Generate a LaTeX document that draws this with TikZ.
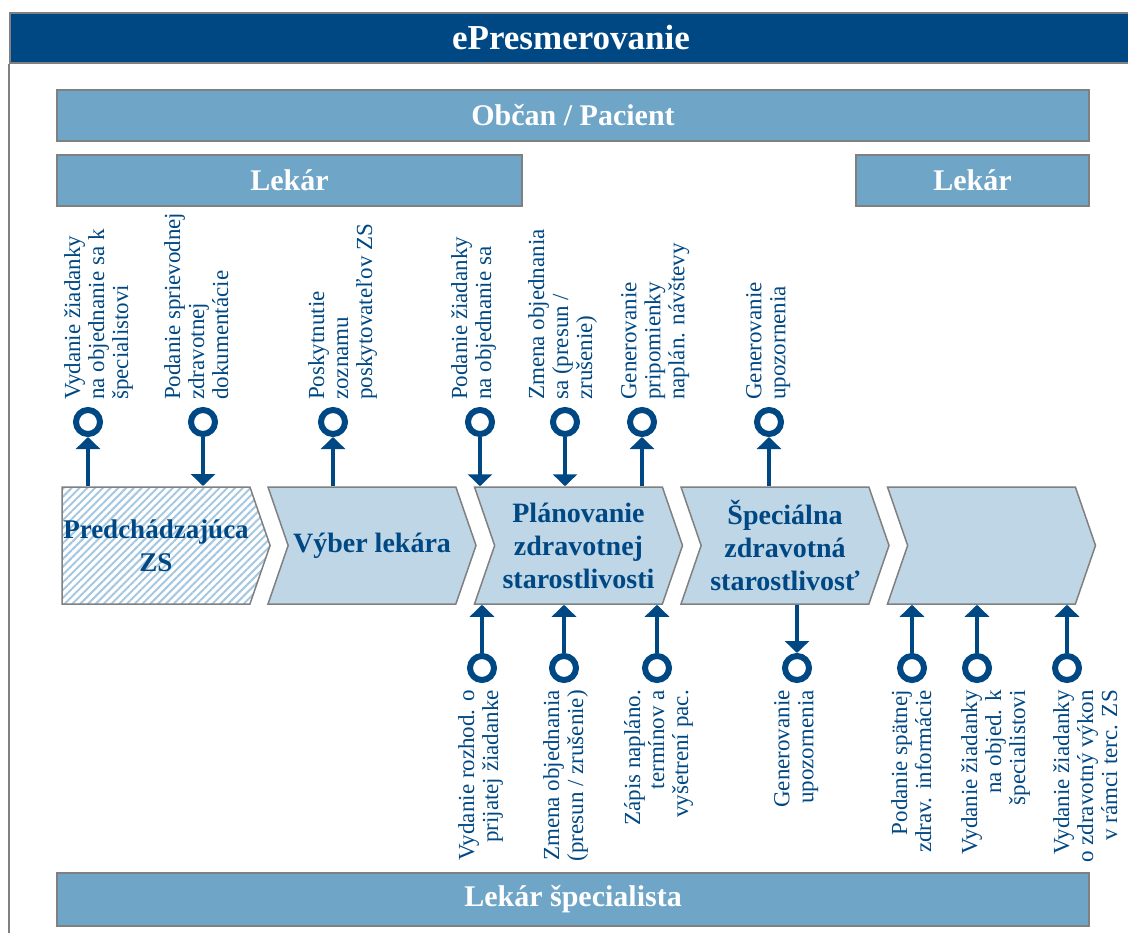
\documentclass[tikz,border=0pt]{standalone}
\usepackage{fontspec}
\setmainfont{Liberation Serif}
\usetikzlibrary{shapes.symbols, positioning, arrows.meta, patterns.meta}

\definecolor{darkblue}{RGB}{0,72,132}
\definecolor{barblue}{RGB}{111,165,199}
\definecolor{phaseblue}{RGB}{190,214,229}
\definecolor{hatchblue}{RGB}{165,200,224}
\definecolor{framegray}{RGB}{128,128,128}

\begin{document}
\begin{tikzpicture}[x=1pt,y=-1pt,node distance=206.5pt,
 bar/.style={rectangle,draw=framegray,line width=2pt,fill=barblue,text=white,
   font=\fontsize{30}{32}\selectfont\bfseries},
 phase/.style={signal,signal to=east,signal from=west,signal pointer angle=142,
   draw=framegray,line width=1.5pt,fill=phaseblue,minimum width=208pt,
   minimum height=117pt,inner sep=0pt,text=darkblue,align=center,
   font=\fontsize{28}{33}\selectfont\bfseries},
 pin/.style={circle,draw=darkblue,line width=6pt,minimum size=24pt,inner sep=0pt},
 flow/.style={draw=darkblue,line width=4pt,-{Triangle[width=24pt,length=12pt]}},
 uplbl/.style={rotate=90,anchor=north west,inner sep=0pt,text=darkblue,
   align=left,font=\fontsize{23}{24}\selectfont},
 lowlbl/.style={rotate=90,anchor=north east,inner sep=0pt,text=darkblue,
   align=right,font=\fontsize{23}{24}\selectfont}]
  \useasboundingbox (0,0) rectangle (1128,933);

  % frame and actors
  \node[bar,fill=darkblue,minimum width=1122pt,minimum height=50pt,
    font=\fontsize{35}{36}\selectfont\bfseries] (title) at (571,38) {ePresmerovanie};
  \draw[framegray,line width=2pt] (title.south west) -- ++(0,880);
  \node[bar,minimum width=1032pt,minimum height=51pt] (citizen) at (573,115.5) {Občan / Pacient};
  \node[bar,minimum width=465pt,minimum height=51pt] (gp) at (289.5,180.5) {Lekár};
  \node[bar,minimum width=233pt,minimum height=51pt] (gp2) at (972.5,180.5) {Lekár};
  \node[bar,minimum width=1032pt,minimum height=53pt] (spec) at (573,899.5) {Lekár špecialista};

  % process steps
  \node[phase,signal from=nowhere,fill=white,font=\fontsize{27}{33}\selectfont\bfseries,
    pattern={Lines[angle=45,distance=5.5pt,line width=2pt]},pattern color=hatchblue]
    (prev) at (156,545.5) {Predchádzajúca\\ZS};
  \node[phase] (choice) at (372,545.5) {Výber lekára};
  \node[phase] (plan) [right of=choice] {Plánovanie\\zdravotnej\\starostlivosti};
  \node[phase] (care) [right of=plan] {Špeciálna\\zdravotná\\starostlivosť};
  \node[phase] (next) [right of=care] {};

  % services above
  \foreach \n/\x in {1/88, 2/203, 3/333, 4/480, 5/565, 6/642, 7/769}
    \node[pin] (t\n) at (\x,422) {};
  \draw[flow] (t1 |- prev.north) -- (t1);
  \draw[flow] (t2) -- (t2 |- prev.north);
  \draw[flow] (t3 |- choice.north) -- (t3);
  \draw[flow] (t4) -- (t4 |- plan.north);
  \draw[flow] (t5) -- (t5 |- plan.north);
  \draw[flow] (t6 |- plan.north) -- (t6);
  \draw[flow] (t7 |- care.north) -- (t7);

  \node[uplbl] (t1lbl) at (64,400) {Vydanie žiadanky\\na objednanie sa k\\špecialistovi};
  \node[uplbl] (t2lbl) at (164,400) {Podanie sprievodnej\\zdravotnej\\dokumentácie};
  \node[uplbl] (t3lbl) at (308,400) {Poskytnutie\\zoznamu\\poskytovateľov ZS};
  \node[uplbl] (t4lbl) at (451,400) {Podanie žiadanky\\na objednanie sa};
  \node[uplbl] (t5lbl) at (528,400) {Zmena objednania\\sa (presun /\\zrušenie)};
  \node[uplbl] (t6lbl) at (621,400) {Generovanie\\pripomienky\\naplán. návštevy};
  \node[uplbl] (t7lbl) at (746,400) {Generovanie\\upozornenia};

  % services below
  \foreach \n/\x in {1/482, 2/564, 3/657, 4/797, 5/912, 6/977, 7/1067}
    \node[pin] (b\n) at (\x,668) {};
  \draw[flow] (b1) -- (b1 |- plan.south);
  \draw[flow] (b2) -- (b2 |- plan.south);
  \draw[flow] (b3) -- (b3 |- plan.south);
  \draw[flow] (b4 |- care.south) -- (b4);
  \draw[flow] (b5) -- (b5 |- next.south);
  \draw[flow] (b6) -- (b6 |- next.south);
  \draw[flow] (b7) -- (b7 |- next.south);

  \node[lowlbl] (b1lbl) at (458,690) {Vydanie rozhod. o\\prijatej žiadanke};
  \node[lowlbl] (b2lbl) at (543,690) {Zmena objednania\\(presun / zrušenie)};
  \node[lowlbl] (b3lbl) at (624,690) {Zápis napláno.\\termínov a\\vyšetrení pac.};
  \node[lowlbl] (b4lbl) at (774,690) {Generovanie\\upozornenia};
  \node[lowlbl] (b5lbl) at (891,690) {Podanie spätnej\\zdrav. informácie};
  \node[lowlbl] (b6lbl) at (961,690) {Vydanie žiadanky\\na objed. k\\špecialistovi};
  \node[lowlbl] (b7lbl) at (1053,690) {Vydanie žiadanky\\o zdravotný výkon\\v rámci terc. ZS};
\end{tikzpicture}
\end{document}
